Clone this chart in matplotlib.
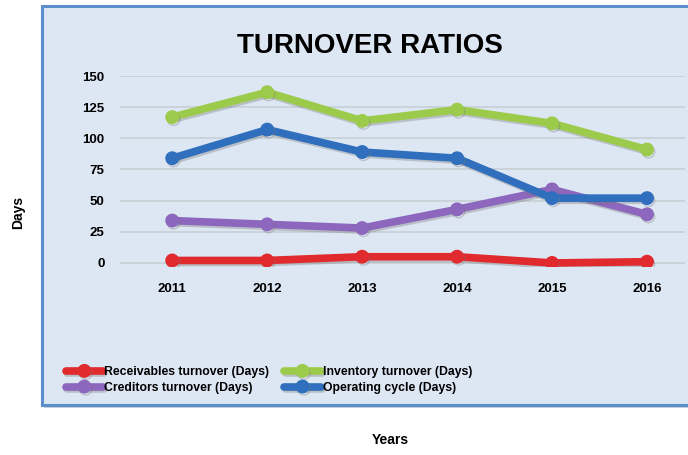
import matplotlib
matplotlib.use("Agg")
from matplotlib import pyplot as plt
from matplotlib.patches import Rectangle
import matplotlib.patheffects as pe

# --- Data ---
years = ["2011", "2012", "2013", "2014", "2015", "2016"]
receivables = [2, 2, 5, 5, 0, 1]
inventory = [117, 137, 114, 123, 112, 91]
creditors = [34, 31, 28, 43, 59, 39]
operating = [84, 107, 89, 84, 52, 52]
yticks = [0, 25, 50, 75, 100, 125, 150]

series = [
    ("Receivables turnover (Days)", receivables, "#e02a2e"),
    ("Inventory turnover (Days)", inventory, "#9ccb4c"),
    ("Creditors turnover (Days)", creditors, "#8d66bd"),
    ("Operating cycle (Days)", operating, "#2f6fbd"),
]

FONT = "Liberation Sans"
W, H = 688, 455
fig = plt.figure(figsize=(W / 100, H / 100), dpi=100)
fig.patch.set_facecolor("white")

# Chart frame with a soft shadow
shadow = Rectangle((44 / W, 1 - 408 / H), 660 / W, 400 / H, transform=fig.transFigure,
                   facecolor="#c9d2dc", edgecolor="none", zorder=0)
frame = Rectangle((42 / W, 1 - 405 / H), 660 / W, 399 / H, transform=fig.transFigure,
                  facecolor="#dde7f3", edgecolor="#5b8fcc", linewidth=2.2, zorder=1)
fig.patches.extend([shadow, frame])

ax = fig.add_axes([120 / W, 1 - 266.7 / H, 565 / W, 190.7 / H])
ax.set_facecolor("none")
ax.set_zorder(2)

x = list(range(len(years)))
for label, values, color in series:
    ax.plot(x, values, color=color, linewidth=5.5, marker="o", markersize=9,
            markerfacecolor=color, markeredgecolor=color, label=label,
            solid_capstyle="round", zorder=3,
            path_effects=[pe.SimpleLineShadow(offset=(1, -1.5), shadow_color="#777777", alpha=0.35),
                          pe.Normal()])

ax.set_xlim(-0.55, 5.4)
ax.set_yticks(yticks)
ax.set_xticks(x)
ax.set_xticklabels(years)
ax.grid(axis="y", color="#c8cfd6", linewidth=1.2)
ax.set_axisbelow(True)
for s in ax.spines.values():
    s.set_visible(False)
ax.tick_params(length=0, labelsize=9.5, pad=12)
ax.tick_params(axis="y", pad=11)
for t in ax.get_xticklabels() + ax.get_yticklabels():
    t.set_fontweight("bold")
    t.set_fontfamily(FONT)
ax.set_ylim(-3, 150)

fig.text(370 / W, 1 - 46 / H, "TURNOVER RATIOS", ha="center", va="center",
         fontsize=20, fontweight="bold", family=FONT)
fig.text(18 / W, 1 - 212 / H, "Days", ha="center", va="center", rotation=90,
         fontsize=10, fontweight="bold", family=FONT)
fig.text(390 / W, 1 - 440 / H, "Years", ha="center", va="center",
         fontsize=10, fontweight="bold", family=FONT)

handles, labels = ax.get_legend_handles_labels()
order = [0, 2, 1, 3]
leg = fig.legend([handles[i] for i in order], [labels[i] for i in order],
                 loc="center left", bbox_to_anchor=(55 / W, 1 - 380 / H), ncol=2,
                 frameon=False, handlelength=3.0, handletextpad=0.15, columnspacing=1.2,
                 labelspacing=0.3, prop={"family": FONT, "weight": "bold", "size": 8.8})

fig.savefig("out.png", dpi=100)
